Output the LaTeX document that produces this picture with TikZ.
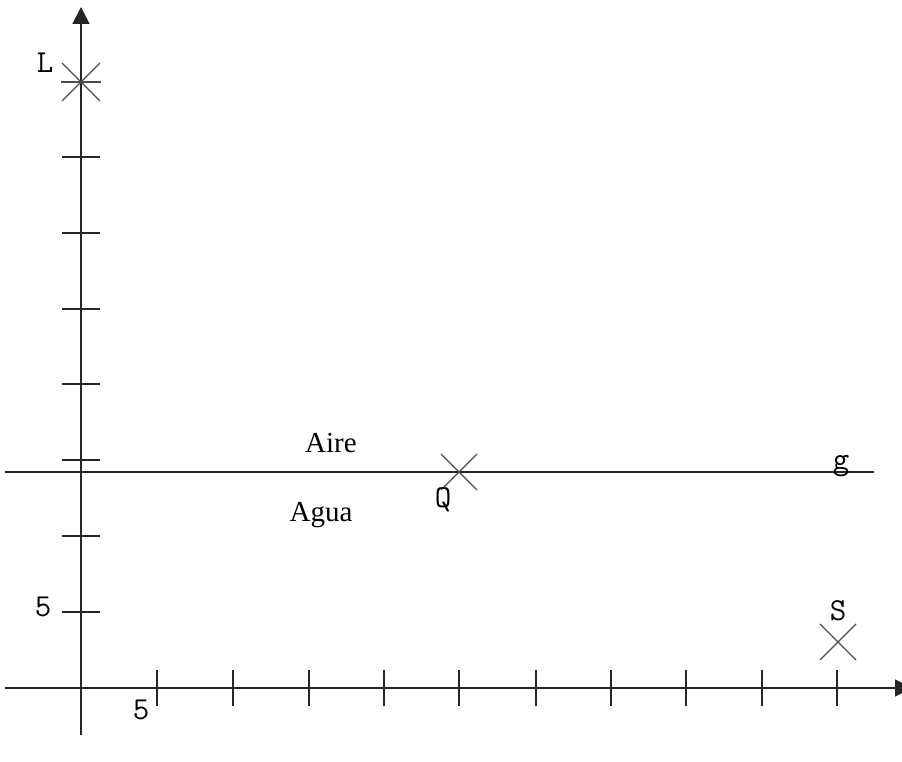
\documentclass[tikz,border=0pt]{standalone}
\usepackage{fontspec}
\setmainfont{Liberation Serif}
\usetikzlibrary{arrows.meta,calc}
\begin{document}
\begin{tikzpicture}[x=1pt,y=1pt,
  axis/.style={line width=1.8pt,black!85},
  tickmark/.style={line width=1.6pt,black!85},
  crossmark/.style={line width=1.2pt,black!70},
  lbl/.style={inner sep=0pt,font=\ttfamily\fontsize{32}{32}\selectfont},
  medium/.style={inner sep=0pt,font=\fontsize{29}{29}\selectfont}]
\useasboundingbox (0,0) rectangle (902,761);
% axis endpoints
\coordinate (O) at (81,73);
\coordinate (ybot) at (81,26);
\coordinate (ytop) at (81,754);
\coordinate (xleft) at (5,73);
\coordinate (xright) at (912,73);
\coordinate (wl) at (5,289);
\coordinate (wr) at (874,289);
\draw[axis,-{Triangle[length=17pt,width=17pt]}] (ybot) -- (ytop);
\draw[axis,-{Triangle[length=17pt,width=17pt]}] (xleft) -- (xright);
\draw[axis] (wl) -- (wr);
% y ticks
\foreach \yy in {149,225,301,377,452,528,604}
  \draw[tickmark] (62,\yy) -- (100,\yy);
% x ticks
\foreach \xx in {157,233,309,384,459,536,611,686,762,837}
  \draw[tickmark] (\xx,55) -- (\xx,91);
% crosses
\coordinate (Lp) at (81,679);
\coordinate (Qp) at (459,289);
\coordinate (Sp) at (838,119);
\draw[crossmark] ($(Lp)+(-19,-19)$) -- ($(Lp)+(19,19)$);
\draw[crossmark] ($(Lp)+(-19,19)$) -- ($(Lp)+(19,-19)$);
\draw[crossmark] ($(Lp)+(-20,0)$) -- ($(Lp)+(20,0)$);
\draw[crossmark] ($(Qp)+(-18,-18)$) -- ($(Qp)+(18,18)$);
\draw[crossmark] ($(Qp)+(-18,18)$) -- ($(Qp)+(18,-18)$);
\draw[crossmark] ($(Sp)+(-18,-18)$) -- ($(Sp)+(18,18)$);
\draw[crossmark] ($(Sp)+(-18,18)$) -- ($(Sp)+(18,-18)$);
% labels
\node[lbl] (L) at (45,698) {L};
\node[lbl] (Q) at (443,261) {Q};
\node[lbl] (g) at (841,295) {g};
\node[lbl] (S) at (838,150) {S};
\node[lbl] (fy) at (43,154) {5};
\node[lbl] (fx) at (141,51) {5};
\node[medium] (aire) at (331,318) {Aire};
\node[medium] (agua) at (321,246) {Agua};
\end{tikzpicture}
\end{document}
